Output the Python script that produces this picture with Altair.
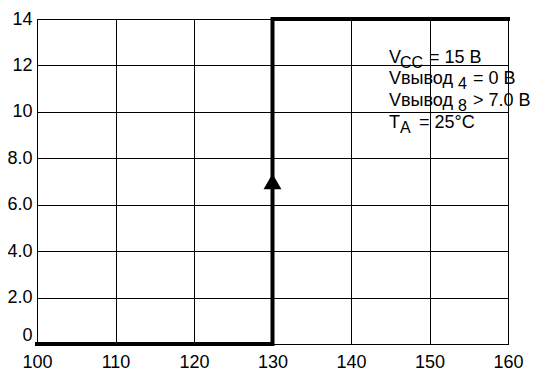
import altair as alt
import pandas as pd

# ---- data ----
step_x = [100, 130, 130, 160]
step_y = [0, 0, 14, 14]
arrow_x = [130]
arrow_y = [7.0]
x_ticks = [100, 110, 120, 130, 140, 150, 160]
y_ticks = [0, 2, 4, 6, 8, 10, 12, 14]

# annotation text pieces: (main, subscript, rest) per line
note_text = [
    ["V", "CC", "= 15 B"],
    ["Vвывод", "4", "= 0 B"],
    ["Vвывод", "8", "> 7.0 B"],
    ["T", "A", "= 25°C"],
]
# layout (pixel offsets) for the pieces
note_dx = [
    [0, 11, 40],
    [0, 69, 84],
    [0, 69, 84],
    [0, 11, 30],
]
line_dy = [0, 21, 43, 65]
sub_drop = 5
note_anchor_x = 144.84
note_anchor_y = 12.10

FONT = "Liberation Sans"

step_df = pd.DataFrame({"x": step_x, "y": step_y, "o": list(range(len(step_x)))})
arrow_df = pd.DataFrame({"x": arrow_x, "y": arrow_y})

xscale = alt.Scale(domain=[100, 160], nice=False, zero=False)
yscale = alt.Scale(domain=[0, 14], nice=False, zero=False)

xaxis = alt.Axis(values=x_ticks, title=None, grid=True, tickSize=0, labelPadding=9,
                 labelFont=FONT, labelFontSize=18, labelColor="black",
                 gridColor="black", gridOpacity=1, gridWidth=1,
                 domainColor="black", labelFlush=False)
yaxis = alt.Axis(values=y_ticks, title=None, grid=True, tickSize=0, labelPadding=5,
                 labelFont=FONT, labelFontSize=18, labelColor="black",
                 gridColor="black", gridOpacity=1, gridWidth=1,
                 domainColor="black",
                 labelBaseline={"expr": "datum.value == 0 ? 'bottom' : 'middle'"},
                 labelExpr="datum.value == 0 ? '0' : (datum.value < 10 ? format(datum.value, '.1f') : format(datum.value, 'd'))")

line = alt.Chart(step_df).mark_line(color="black", strokeWidth=4, strokeCap="square").encode(
    x=alt.X("x:Q", scale=xscale, axis=xaxis),
    y=alt.Y("y:Q", scale=yscale, axis=yaxis),
    order="o:Q",
)

arrow = alt.Chart(arrow_df).mark_point(
    shape="triangle-up", filled=True, color="black", opacity=1, size=320
).encode(x=alt.X("x:Q", scale=xscale), y=alt.Y("y:Q", scale=yscale))

layers = [line, arrow]
for i, parts in enumerate(note_text):
    for j, t in enumerate(parts):
        dy = line_dy[i] + (sub_drop if j == 1 else 0)
        layers.append(
            alt.Chart(pd.DataFrame({"t": [t]})).mark_text(
                align="left", baseline="alphabetic", font=FONT,
                fontSize=16 if j == 1 else 18,
                color="black", dx=note_dx[i][j], dy=dy
            ).encode(x=alt.datum(note_anchor_x), y=alt.datum(note_anchor_y), text="t:N")
        )

chart = alt.layer(*layers).properties(
    width=471, height=325, autosize="none",
    padding={"left": 29, "top": 11, "right": 40, "bottom": 30},
    background="white",
).configure_view(stroke="black", strokeWidth=1)

chart.save("out.html", embed_options={"renderer": "svg", "actions": False})
